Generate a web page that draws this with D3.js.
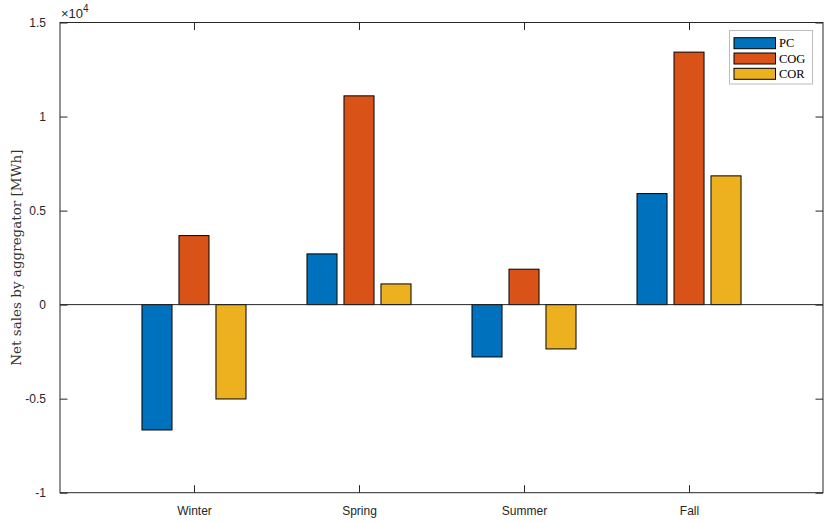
<!DOCTYPE html>
<html><head><meta charset="utf-8">
<script src="https://cdn.jsdelivr.net/npm/d3@7"></script>
<style>body{margin:0;background:#fff}svg{display:block}</style>
</head><body><svg id="c" width="824" height="522"></svg>
<script>
const categories = ["Winter","Spring","Summer","Fall"];
const seriesNames = ["PC","COG","COR"];
const PC  = [-6665, 2697, -2782, 5904];
const COG = [3670, 11100, 1883, 13425];
const COR = [-5016, 1100, -2356, 6846];
const yTicks = [-1, -0.5, 0, 0.5, 1, 1.5];
const yTickLabels = ["-1","-0.5","0","0.5","1","1.5"];
const colors = ["#0072BD","#D95319","#EDB120"];
const series = [PC, COG, COR];

const svg = d3.select("#c");
const L = 60, R = 823, T = 22.5, B = 492.7;
const x = d3.scaleLinear().domain([0.188, 4.812]).range([L, R]);
const y = d3.scaleLinear().domain([-1e4, 1.5e4]).range([B, T]);
const off = 0.2242, bw = 0.182;
const axisColor = "#262626";

// bars
series.forEach((s, si) => {
  svg.append("g").selectAll("rect").data(s).join("rect")
    .attr("x", (d,i) => x(i+1 + (si-1)*off - bw/2))
    .attr("width", (d,i) => x(i+1 + (si-1)*off + bw/2) - x(i+1 + (si-1)*off - bw/2))
    .attr("y", d => y(Math.max(0,d)))
    .attr("height", d => Math.abs(y(d) - y(0)))
    .attr("fill", colors[si])
    .attr("stroke", "#000").attr("stroke-width", 1);
});
// baseline
svg.append("line").attr("x1", L).attr("x2", R).attr("y1", y(0)).attr("y2", y(0))
  .attr("stroke", "#262626").attr("stroke-width", 1);

// axes
const gl = svg.append("g").attr("transform", `translate(${L},0)`)
  .call(d3.axisLeft(y).tickValues(yTicks.map(v=>v*1e4)).tickSize(-7.5)
    .tickFormat((d,i)=>yTickLabels[i]).tickPadding(14));
const gr = svg.append("g").attr("transform", `translate(${R},0)`)
  .call(d3.axisRight(y).tickValues(yTicks.map(v=>v*1e4)).tickSize(-7.5).tickFormat(""));
const gb = svg.append("g").attr("transform", `translate(0,${B})`)
  .call(d3.axisBottom(x).tickValues([1,2,3,4]).tickSize(-7.5)
    .tickFormat((d,i)=>categories[i]).tickPadding(14));
const gt = svg.append("g").attr("transform", `translate(0,${T})`)
  .call(d3.axisTop(x).tickValues([1,2,3,4]).tickSize(-7.5).tickFormat(""));
[gl,gr,gb,gt].forEach(g => {
  g.select(".domain").remove();
  g.selectAll(".tick line").attr("stroke", axisColor);
  g.selectAll("text").attr("fill", axisColor)
    .style("font-family", "'Liberation Sans', Arial, sans-serif").style("font-size", "12px");
});
svg.append("rect").attr("x", L).attr("y", T).attr("width", R-L).attr("height", B-T)
  .attr("fill", "none").attr("stroke", axisColor).attr("stroke-width", 1);

// exponent
const ex = svg.append("text").attr("x", L + 1).attr("y", 18)
  .attr("fill", axisColor).style("font-family", "'Liberation Sans', Arial, sans-serif").style("font-size", "13px");
ex.append("tspan").text("\u00d710");
ex.append("tspan").attr("dy", -6).style("font-size", "10px").text("4");

// y label
svg.append("text").attr("transform", `translate(21,${(T+B)/2}) rotate(-90)`)
  .attr("text-anchor", "middle").attr("fill", "#333")
  .style("font-family", "'DejaVu Serif', 'Liberation Serif', serif").style("font-size", "13.5px")
  .style("font-weight", "300")
  .text("Net sales by aggregator [MWh]");

// legend
const lg = svg.append("g");
lg.append("rect").attr("x", 729.5).attr("y", 30.5).attr("width", 83).attr("height", 53.5)
  .attr("fill", "#fff").attr("stroke", "#bcbcbc").attr("stroke-width", 1);
seriesNames.forEach((n, i) => {
  const yy = 37.7 + i*15.3;
  lg.append("rect").attr("x", 734).attr("y", yy).attr("width", 41.5).attr("height", 11)
    .attr("fill", colors[i]).attr("stroke", "#000").attr("stroke-width", 1);
  lg.append("text").attr("x", 779).attr("y", yy + 9.5).text(n)
    .attr("fill", "#000").style("font-family", "'Liberation Serif', 'Times New Roman', serif").style("font-size", "12.5px");
});
</script></body></html>
